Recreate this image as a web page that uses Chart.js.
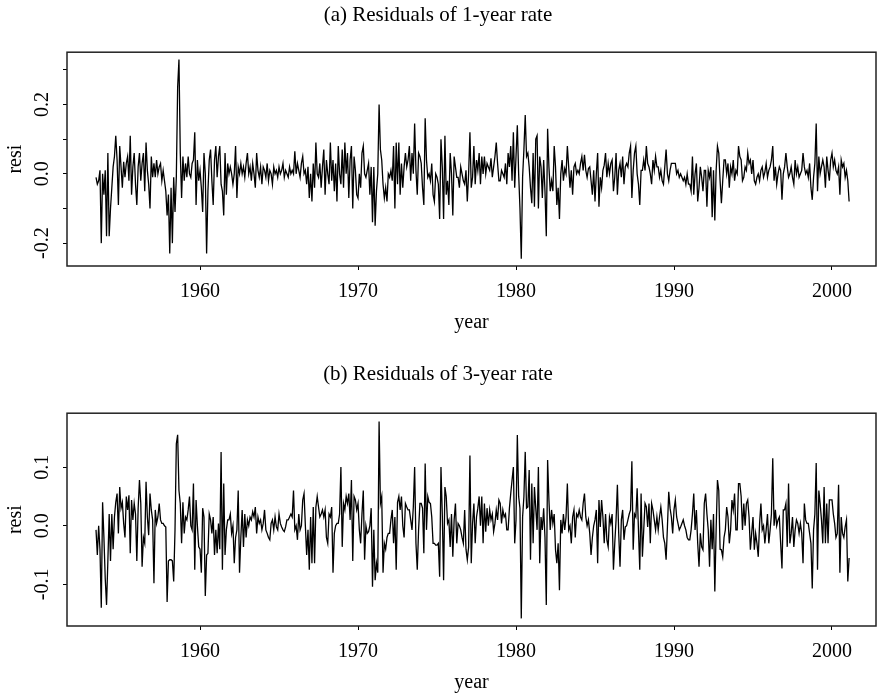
<!DOCTYPE html>
<html>
<head>
<meta charset="utf-8">
<title>Residuals of 1-year and 3-year rates</title>
<script src="https://cdn.jsdelivr.net/npm/chart.js@4.4.1/dist/chart.umd.min.js"></script>
<style>
  html, body { margin: 0; padding: 0; background: #fff; }
  #wrap { position: relative; width: 877px; height: 695px; }
  .panel { position: absolute; left: 0; width: 877px; height: 335px; }
  #panelA { top: 0; }
  #panelB { top: 360px; }
</style>
</head>
<body>
<div id="wrap">
  <div class="panel" id="panelA"><canvas id="chartA" width="877" height="335"></canvas></div>
  <div class="panel" id="panelB"><canvas id="chartB" width="877" height="335"></canvas></div>
</div>
<script>
// =============================
// DATA (monthly, from June 1953 to February 2001)
// =============================
const START_YEAR = 1953 + 5 / 12;   // June 1953
const YEAR_TICKS = [1960, 1970, 1980, 1990, 2000];

const TICKS_A = [-0.2, -0.1, 0.0, 0.1, 0.2, 0.3];
const LABELS_A = [-0.2, 0.0, 0.2];
const TICKS_B = [-0.1, 0.0, 0.1];
const LABELS_B = [-0.1, 0.0, 0.1];

// (a) residuals of 1-year rate
const resi1 = [
  -0.01, -0.03, -0.02, 0.01, -0.20, 0.00, -0.06,                                   // 1953
  0.01, -0.18, 0.06, -0.18, -0.10, -0.04, 0.02, 0.05, 0.11, 0.04, -0.09, 0.08,      // 1954
  0.02, -0.04, 0.035, -0.01, 0.03, 0.05, -0.02, 0.11, -0.06, 0.02, 0.06, -0.03,     // 1955
  -0.09, 0.02, 0.06, -0.02, 0.03, 0.06, -0.05, 0.09, 0.01, -0.03, -0.10, 0.05,      // 1956
  -0.01, 0.03, -0.01, 0.04, 0.00, 0.02, 0.03, -0.02, 0.01, -0.02, -0.05, -0.12,     // 1957
  -0.06, -0.23, -0.04, -0.20, -0.01, -0.11, -0.01, 0.25, 0.33, 0.06, -0.07, 0.05,   // 1958
  -0.02, 0.03, -0.01, 0.05, 0.00, -0.01, 0.03, 0.04, 0.12, -0.09, 0.04, -0.02,      // 1959
  0.01, -0.04, -0.11, 0.06, 0.00, -0.23, -0.05, 0.04, 0.07, -0.02, -0.09, 0.04,     // 1960
  0.08, -0.01, 0.05, 0.08, -0.03, -0.05, -0.12, 0.06, -0.06, 0.03, 0.00, 0.02,      // 1961
  0.00, -0.03, 0.00, 0.08, -0.07, 0.02, 0.00, 0.03, 0.00, 0.02, -0.01, 0.03,        // 1962
  0.06, 0.00, 0.02, -0.02, 0.03, 0.00, -0.04, 0.06, 0.01, -0.01, 0.02, -0.03,       // 1963
  0.02, 0.01, -0.01, 0.03, -0.02, 0.01, 0.00, -0.03, 0.02, 0.00, 0.01, -0.01,       // 1964
  0.02, 0.00, 0.01, 0.03, -0.01, 0.01, 0.00, -0.01, 0.02, 0.00, 0.01, 0.00,         // 1965
  0.065, 0.00, 0.03, 0.01, -0.01, 0.03, 0.05, 0.00, 0.01, -0.03, 0.02, -0.07,       // 1966
  0.00, -0.08, 0.03, -0.04, 0.09, 0.00, -0.01, 0.03, -0.04, 0.02, 0.07, -0.06,      // 1967
  0.04, 0.00, -0.03, 0.09, -0.02, 0.04, -0.05, 0.03, -0.08, 0.08, 0.00, -0.03,      // 1968
  0.07, -0.04, 0.09, 0.00, 0.06, -0.07, 0.04, 0.08, -0.10, 0.05, 0.01, -0.06,       // 1969
  -0.07, 0.00, -0.04, 0.06, 0.08, 0.00, -0.01, 0.01, 0.03, -0.06, 0.02, -0.14,      // 1970
  0.02, -0.15, -0.05, 0.00, 0.20, 0.07, 0.04, -0.03, -0.07, -0.04, -0.08, 0.00,     // 1971
  -0.01, 0.01, -0.02, 0.08, -0.10, 0.09, -0.03, 0.09, -0.06, 0.03, -0.04, 0.02,     // 1972
  0.06, 0.02, 0.04, 0.08, -0.02, 0.06, 0.00, 0.145, 0.01, -0.06, 0.06, 0.05,        // 1973
  0.03, -0.04, -0.09, 0.16, 0.04, -0.01, 0.00, -0.02, 0.03, -0.06, -0.08, 0.00,     // 1974
  -0.01, -0.03, -0.13, 0.10, 0.02, -0.13, 0.11, -0.06, -0.02, -0.09, 0.06, 0.00,    // 1975
  -0.12, 0.05, 0.02, -0.01, -0.01, -0.04, 0.02, 0.00, -0.02, -0.03, 0.01, -0.08,    // 1976
  0.00, 0.12, -0.04, -0.01, 0.08, -0.03, 0.04, 0.01, 0.06, -0.03, 0.05, 0.00,       // 1977
  0.05, 0.00, 0.03, 0.02, 0.01, 0.045, -0.01, 0.02, 0.05, 0.09, 0.03, -0.02,        // 1978
  -0.02, 0.01, 0.00, -0.01, 0.03, -0.03, 0.06, 0.02, 0.08, -0.02, 0.12, -0.04,      // 1979
  0.05, 0.14, 0.00, -0.10, -0.245, -0.01, 0.07, 0.17, 0.05, 0.06, 0.02, -0.04,      // 1980
  -0.085, 0.06, -0.095, 0.10, 0.11, -0.10, 0.05, 0.02, -0.07, 0.04, -0.05, -0.18,   // 1981
  0.13, 0.02, -0.05, -0.02, -0.05, 0.08, 0.02, -0.09, -0.04, -0.13, 0.00, 0.04,     // 1982
  -0.02, 0.015, 0.00, 0.08, 0.02, -0.04, 0.01, -0.06, 0.02, 0.03, 0.00, 0.01,       // 1983
  0.00, 0.03, 0.05, 0.01, 0.055, 0.01, -0.01, 0.015, 0.02, -0.02, -0.06, 0.01,      // 1984
  -0.08, 0.00, 0.06, -0.095, -0.01, -0.04, 0.01, 0.025, 0.06, -0.01, 0.03, 0.00,    // 1985
  0.03, 0.04, -0.05, -0.01, 0.06, -0.06, 0.01, 0.03, -0.01, 0.05, -0.03, 0.02,      // 1986
  0.03, 0.02, 0.06, 0.08, -0.07, 0.01, 0.06, 0.08, 0.00, -0.03, -0.09, 0.01,        // 1987
  0.01, 0.04, 0.01, 0.08, 0.03, 0.02, 0.00, -0.03, 0.04, 0.01, 0.05, 0.02,          // 1988
  0.02, -0.01, 0.01, -0.02, -0.03, 0.02, 0.07, 0.00, -0.02, 0.01, 0.03, 0.03,       // 1989
  0.03, 0.03, 0.00, 0.01, -0.01, 0.00, -0.01, -0.02, -0.01, -0.03, 0.00, -0.03,     // 1990
  -0.03, -0.05, 0.05, -0.06, 0.00, 0.03, -0.08, -0.04, 0.02, -0.01, -0.05, 0.01,    // 1991
  0.01, -0.095, 0.01, -0.01, 0.02, -0.125, 0.01, -0.135, 0.01, 0.08, 0.06, -0.02,   // 1992
  -0.085, -0.02, 0.04, 0.04, 0.00, 0.03, -0.04, 0.02, 0.00, 0.04, -0.02, 0.01,      // 1993
  0.00, 0.08, 0.05, 0.04, -0.02, -0.01, 0.02, 0.01, 0.06, 0.03, 0.04, 0.00,         // 1994
  0.04, -0.02, -0.03, -0.01, 0.00, -0.02, 0.01, 0.02, -0.01, 0.005, 0.03, -0.01,    // 1995
  0.01, 0.02, 0.04, 0.08, -0.02, 0.02, -0.03, 0.00, 0.02, 0.01, -0.075, 0.00,       // 1996
  0.02, 0.06, 0.02, -0.01, 0.00, 0.02, -0.01, -0.03, 0.04, 0.00, 0.02, -0.01,       // 1997
  0.00, 0.01, 0.06, 0.02, 0.00, 0.01, -0.01, 0.03, -0.04, -0.075, -0.01, 0.03,      // 1998
  0.145, -0.05, 0.05, 0.00, 0.02, 0.04, 0.02, -0.04, 0.05, 0.01, -0.02, 0.04,       // 1999
  0.06, 0.02, 0.04, 0.01, 0.00, 0.02, -0.06, 0.04, 0.02, 0.03, -0.01, 0.01,         // 2000
  -0.02, -0.08                                                                       // 2001
];

// (b) residuals of 3-year rate
const resi3 = [
  -0.007, -0.05, 0.00, -0.04, -0.14, 0.04, -0.02,                                          // 1953
  -0.09, -0.135, -0.06, 0.02, -0.06, 0.02, -0.04, 0.015, 0.04, 0.055, -0.013, 0.066,       // 1954
  0.03, 0.04, 0.004, -0.02, 0.05, 0.027, 0.052, -0.047, 0.044, 0.01, 0.038, 0.02,          // 1955
  -0.06, 0.03, 0.078, 0.038, -0.07, -0.02, -0.03, 0.075, 0.015, -0.016, 0.055, 0.027,      // 1956
  0.01, -0.098, 0.027, 0.004, 0.015, 0.038, 0.01, 0.004, 0.004, 0.00, -0.002, -0.13,       // 1957
  -0.06, -0.058, -0.058, -0.06, -0.095, -0.007, 0.14, 0.155, 0.06, 0.038, -0.03, 0.04,     // 1958
  -0.013, 0.015, 0.01, 0.027, 0.05, 0.00, -0.007, 0.072, -0.075, 0.044, 0.00, -0.036,      // 1959
  -0.04, -0.08, 0.03, 0.015, -0.12, -0.05, -0.047, 0.02, 0.01, -0.013, 0.015, -0.05,       // 1960
  -0.007, -0.047, 0.004, -0.04, 0.126, -0.075, 0.072, -0.05, -0.007, 0.01, 0.01, 0.02,     // 1961
  -0.013, 0.00, -0.064, -0.02, -0.007, 0.06, -0.08, -0.02, 0.027, -0.036, 0.02, -0.02,     // 1962
  0.01, 0.00, 0.015, 0.01, 0.024, 0.015, 0.032, -0.013, 0.015, 0.004, 0.01, -0.007,        // 1963
  0.004, 0.027, -0.007, -0.013, -0.02, -0.024, 0.004, 0.01, -0.007, 0.015, -0.002, -0.007, // 1964
  0.02, 0.004, -0.002, -0.007, -0.01, -0.002, 0.01, 0.01, 0.015, 0.02, 0.015, 0.06,        // 1965
  -0.007, 0.00, -0.024, 0.02, -0.007, 0.00, 0.044, 0.055, 0.00, -0.05, -0.007, -0.075,     // 1966
  0.015, -0.064, 0.032, -0.064, 0.032, 0.05, 0.032, 0.015, 0.02, 0.027, 0.015, 0.027,      // 1967
  -0.02, -0.03, 0.02, 0.015, 0.032, -0.08, -0.013, 0.00, 0.004, 0.004, 0.02, 0.10,         // 1968
  -0.036, 0.038, 0.027, 0.05, 0.038, 0.055, 0.01, 0.078, -0.06, 0.05, 0.044, 0.027,        // 1969
  0.038, -0.007, -0.03, 0.02, 0.06, -0.058, 0.00, -0.013, -0.01, 0.00, 0.03, -0.104,       // 1970
  -0.007, -0.093, -0.064, -0.08, 0.178, 0.038, 0.05, -0.08, -0.03, -0.04, -0.02, -0.013,   // 1971
  -0.013, 0.01, 0.027, -0.03, 0.015, -0.075, 0.04, 0.05, 0.027, 0.05, 0.00, -0.02,         // 1972
  0.038, 0.032, 0.027, 0.027, 0.01, -0.007, 0.032, 0.10, -0.03, -0.075, -0.007, 0.038,     // 1973
  0.038, 0.03, -0.047, 0.106, -0.007, 0.05, 0.04, 0.038, 0.015, -0.03, -0.03, -0.033,      // 1974
  -0.033, -0.03, -0.087, 0.10, 0.02, -0.093, 0.066, 0.05, 0.004, 0.01, -0.036, 0.02,       // 1975
  -0.053, 0.01, 0.038, -0.03, 0.004, 0.00, -0.007, -0.02, -0.03, 0.027, -0.04, -0.058,     // 1976
  -0.036, 0.12, -0.064, 0.004, 0.038, -0.03, 0.015, 0.03, 0.05, 0.00, 0.05, -0.03,         // 1977
  0.038, -0.01, 0.03, 0.00, 0.027, 0.01, 0.02, -0.01, 0.004, 0.027, 0.01, 0.044,           // 1978
  0.038, 0.004, 0.027, 0.015, 0.02, -0.007, -0.007, 0.03, 0.055, 0.078, 0.10, -0.03,       // 1979
  0.01, 0.155, 0.05, 0.03, -0.158, 0.015, 0.05, 0.126, 0.03, 0.032, 0.095, -0.058,         // 1980
  0.072, -0.03, 0.066, 0.03, -0.007, 0.10, -0.064, 0.015, -0.007, 0.03, -0.02, -0.135,     // 1981
  0.112, 0.044, -0.007, 0.027, 0.004, 0.02, -0.041, -0.064, -0.03, -0.11, 0.01, -0.013,    // 1982
  0.02, -0.007, 0.015, 0.072, -0.007, 0.00, -0.03, 0.015, 0.027, -0.02, 0.02, 0.015,       // 1983
  0.027, 0.015, 0.01, 0.038, 0.055, 0.015, 0.00, 0.01, -0.013, -0.05, -0.02, 0.00,         // 1984
  0.01, 0.027, -0.064, 0.044, -0.002, 0.044, 0.015, -0.03, 0.02, -0.024, -0.036, 0.015,    // 1985
  0.004, 0.02, -0.075, -0.03, 0.01, 0.07, -0.013, -0.07, 0.01, 0.027, -0.024, -0.002,      // 1986
  0.00, 0.01, 0.02, 0.027, 0.11, -0.041, 0.02, 0.015, 0.064, -0.007, -0.075, 0.055,        // 1987
  -0.053, -0.007, 0.038, 0.032, -0.002, 0.038, -0.03, 0.038, 0.027, 0.01, -0.007, 0.015,   // 1988
  -0.007, 0.015, 0.032, 0.01, -0.02, -0.03, -0.058, -0.002, 0.058, 0.03, 0.015, -0.013,    // 1989
  0.027, 0.044, 0.015, 0.004, -0.007, -0.002, 0.004, 0.01, 0.00, -0.007, -0.02, -0.024,    // 1990
  -0.024, -0.007, 0.02, 0.055, -0.007, 0.027, -0.03, -0.07, -0.013, -0.036, -0.041, 0.038, // 1991
  0.055, 0.02, -0.007, -0.07, 0.01, -0.04, 0.02, -0.112, -0.007, 0.078, 0.06, -0.04,       // 1992
  -0.041, -0.053, -0.02, -0.007, 0.032, 0.015, -0.03, -0.007, 0.044, 0.027, 0.055, -0.007, // 1993
  -0.007, 0.072, 0.072, 0.05, -0.007, 0.038, 0.00, 0.038, 0.044, 0.015, -0.041, -0.013,    // 1994
  0.015, -0.041, -0.013, -0.03, -0.053, 0.004, 0.038, -0.007, 0.00, -0.03, -0.007, 0.02,   // 1995
  -0.03, -0.007, 0.02, 0.115, 0.00, 0.027, 0.00, 0.01, 0.015, -0.03, -0.073, 0.027,        // 1996
  0.027, 0.038, -0.036, 0.072, -0.03, -0.013, 0.015, -0.036, -0.007, 0.01, 0.004, -0.013,  // 1997
  0.004, -0.013, -0.064, 0.038, 0.01, 0.004, 0.004, -0.013, -0.03, -0.107, -0.007, 0.02,   // 1998
  0.107, -0.075, 0.06, 0.038, 0.01, -0.03, 0.066, -0.03, 0.038, -0.03, 0.044, 0.044,       // 1999
  0.044, 0.02, 0.004, -0.02, -0.013, 0.07, -0.08, 0.015, -0.013, -0.02, -0.002, 0.01,      // 2000
  -0.095, -0.055                                                                            // 2001
];

// =============================
// UTIL
// =============================
const FONT = "'Liberation Serif', 'Times New Roman', Times, serif";
Chart.defaults.font.family = FONT;
Chart.defaults.font.size = 20;
Chart.defaults.color = "#000";

const toPoints = (arr) => arr.map((v, i) => ({ x: START_YEAR + i / 12, y: v }));

// kotak penuh di sekeliling area plot
const framePlugin = {
  id: "frame",
  afterDraw(chart) {
    const { ctx, chartArea: a } = chart;
    ctx.save();
    ctx.strokeStyle = "#222";
    ctx.lineWidth = 1.5;
    ctx.strokeRect(a.left, a.top, a.right - a.left, a.bottom - a.top);
    ctx.restore();
  }
};

function makePanel(canvasId, title, titlePad, series, yMin, yMax, yTicks, yLabels) {
  const ctx = document.getElementById(canvasId).getContext("2d");
  return new Chart(ctx, {
    type: "line",
    data: {
      datasets: [{
        data: toPoints(series),
        borderColor: "#000",
        borderWidth: 1.3,
        pointRadius: 0,
        tension: 0,
        fill: false
      }]
    },
    options: {
      responsive: false,
      animation: false,
      devicePixelRatio: 1,
      layout: { padding: { left: 0, right: 1, top: 0, bottom: 0 } },
      plugins: {
        legend: { display: false },
        tooltip: { enabled: false },
        title: {
          display: true,
          text: title,
          color: "#000",
          font: { family: FONT, size: 21, weight: "normal" },
          padding: titlePad
        }
      },
      scales: {
        x: {
          type: "linear",
          min: 1951.58,
          max: 2002.785,
          afterBuildTicks: (s) => { s.ticks = YEAR_TICKS.map(v => ({ value: v })); },
          afterFit: (s) => { s.height = 69; },
          border: { display: false },
          grid: { drawOnChartArea: false, drawTicks: true, tickLength: 4, color: "#000", lineWidth: 1 },
          ticks: {
            padding: 10,
            maxRotation: 0,
            autoSkip: false,
            font: { size: 20 },
            callback: (v) => String(v)
          },
          title: {
            display: true,
            text: "year",
            font: { size: 20 },
            padding: { top: 0, bottom: 0 }
          }
        },
        y: {
          min: yMin,
          max: yMax,
          afterBuildTicks: (s) => { s.ticks = yTicks.map(v => ({ value: v })); },
          afterFit: (s) => { s.width = 67; },
          border: { display: false },
          grid: { drawOnChartArea: false, drawTicks: true, tickLength: 4, color: "#000", lineWidth: 1 },
          ticks: {
            padding: 4,
            minRotation: 90,
            maxRotation: 90,
            crossAlign: "center",
            autoSkip: false,
            font: { size: 20 },
            callback: (v) => yLabels.some(l => Math.abs(l - v) < 1e-9) ? v.toFixed(1) : ""
          },
          title: {
            display: true,
            text: "resi",
            font: { size: 20 },
            padding: { top: 4, bottom: 0 }
          }
        }
      }
    },
    plugins: [framePlugin]
  });
}

makePanel("chartA", "(a) Residuals of 1-year rate", { top: 3, bottom: 24 },
  resi1, -0.266, 0.351, TICKS_A, LABELS_A);
makePanel("chartB", "(b) Residuals of 3-year rate", { top: 2, bottom: 26 },
  resi3, -0.171, 0.192, TICKS_B, LABELS_B);
</script>
</body>
</html>
